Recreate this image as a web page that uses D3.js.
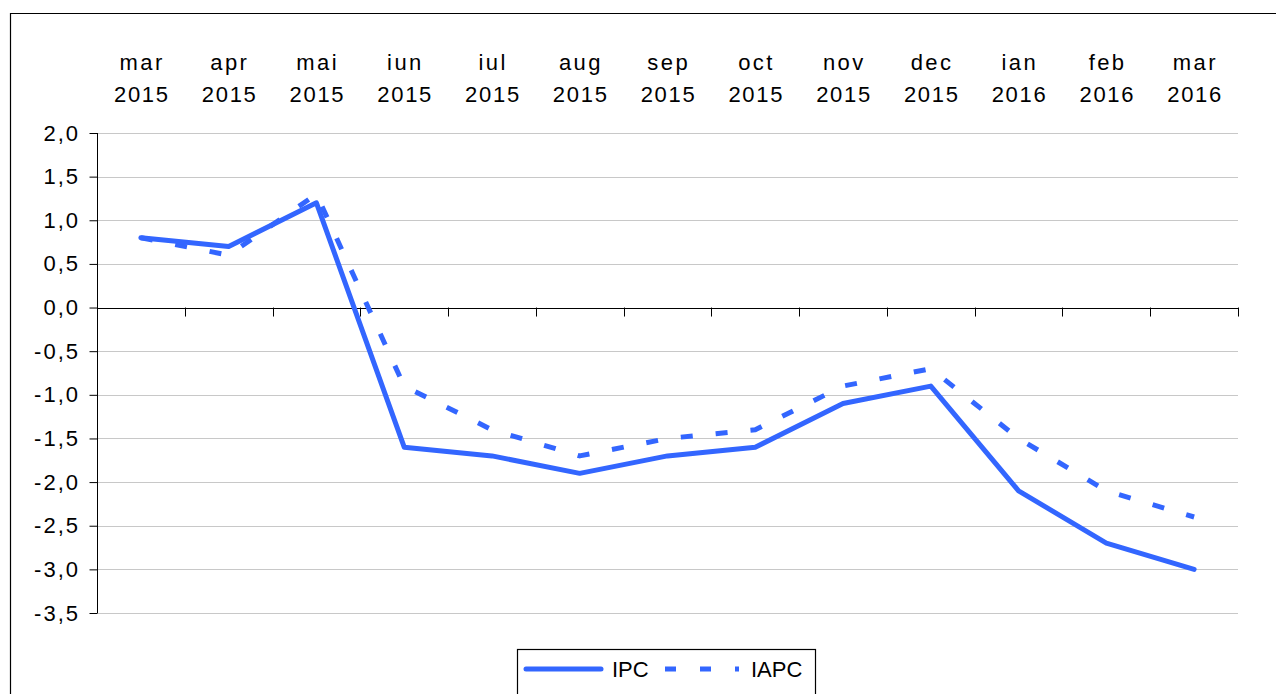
<!DOCTYPE html>
<html>
<head>
<meta charset="utf-8">
<script src="https://cdn.jsdelivr.net/npm/d3@7"></script>
<style>
  html, body { margin: 0; padding: 0; background: #fff; }
  svg { display: block; font-family: "Liberation Sans", Arial, sans-serif; }
</style>
</head>
<body>
<svg id="chart" width="1276" height="694"></svg>
<script>
const months = ["mar", "apr", "mai", "iun", "iul", "aug", "sep", "oct", "nov", "dec", "ian", "feb", "mar"];
const years  = ["2015", "2015", "2015", "2015", "2015", "2015", "2015", "2015", "2015", "2015", "2016", "2016", "2016"];
const ipc  = [0.8, 0.7, 1.2, -1.6, -1.7, -1.9, -1.7, -1.6, -1.1, -0.9, -2.1, -2.7, -3.0];
const iapc = [0.8, 0.6, 1.3, -0.9, -1.4, -1.7, -1.5, -1.4, -0.9, -0.7, -1.5, -2.1, -2.4];
const yTicks = [2.0, 1.5, 1.0, 0.5, 0.0, -0.5, -1.0, -1.5, -2.0, -2.5, -3.0, -3.5];
const seriesNames = ["IPC", "IAPC"];

const color = "#3366ff";
const svg = d3.select("#chart");
const idx = d3.range(months.length);

const x = d3.scaleBand().domain(idx).range([97, 1238]).paddingInner(0).paddingOuter(0);
const y = d3.scaleLinear().domain([-3.5, 2]).range([613, 133]);
const cx = i => x(i) + x.bandwidth() / 2;

// outer border (top + left)
svg.append("path")
  .attr("d", "M10.5,694 L10.5,13.5 L1276,13.5")
  .attr("fill", "none").attr("stroke", "#000").attr("stroke-width", 1.2);

// gridlines
svg.append("g").selectAll("line").data(yTicks).join("line")
  .attr("x1", 97).attr("x2", 1238)
  .attr("y1", d => Math.round(y(d)) + 0.5).attr("y2", d => Math.round(y(d)) + 0.5)
  .attr("stroke", "#c8c8c8").attr("stroke-width", 1);

// y axis
const yAxis = d3.axisLeft(y).tickValues(yTicks).tickSize(8).tickPadding(9.5)
  .tickFormat(d => d3.format(".1f")(d).replace(".", ",").replace("−", "-"));
const gy = svg.append("g").attr("transform", "translate(97.5,0)").call(yAxis);
gy.select(".domain").attr("stroke", "#000").attr("d", `M0,${y(2)}V${y(-3.5)}`);
gy.selectAll(".tick line").attr("stroke", "#000");
gy.selectAll(".tick text").attr("font-size", 22).attr("fill", "#000")
  .attr("letter-spacing", 2)
  .attr("font-family", "Liberation Sans, Arial, sans-serif");

// x axis at zero line
const bounds = idx.map(i => x(i)).concat([x.range()[1]]);
const gx = svg.append("g");
gx.append("line").attr("x1", 97).attr("x2", 1238)
  .attr("y1", Math.round(y(0)) + 0.5).attr("y2", Math.round(y(0)) + 0.5)
  .attr("stroke", "#000").attr("stroke-width", 1.2);
gx.selectAll("line.tk").data(bounds.slice(1)).join("line").attr("class", "tk")
  .attr("x1", d => Math.round(d) + 0.5).attr("x2", d => Math.round(d) + 0.5)
  .attr("y1", y(0)).attr("y2", y(0) + 9)
  .attr("stroke", "#000").attr("stroke-width", 1);

// top category labels
const lab = svg.append("g").attr("font-size", 22).attr("fill", "#000").attr("text-anchor", "middle");
lab.selectAll("text.m").data(idx).join("text").attr("class", "m")
  .attr("x", d => cx(d) + 1.2).attr("y", 70).attr("letter-spacing", 2.4).text(d => months[d]);
lab.selectAll("text.yr").data(idx).join("text").attr("class", "yr")
  .attr("x", d => cx(d) + 1).attr("y", 102).attr("letter-spacing", 1.7).text(d => years[d]);

// lines
const line = d3.line().x((d, i) => cx(i)).y(d => y(d));
svg.append("path").datum(iapc).attr("d", line)
  .attr("fill", "none").attr("stroke", color).attr("stroke-width", 5)
  .attr("stroke-dasharray", "12 23").attr("stroke-linejoin", "round");
svg.append("path").datum(ipc).attr("d", line)
  .attr("fill", "none").attr("stroke", color).attr("stroke-width", 5)
  .attr("stroke-linecap", "round").attr("stroke-linejoin", "round");

// legend
const lg = svg.append("g");
lg.append("rect").attr("x", 517.5).attr("y", 649.5).attr("width", 298).attr("height", 60)
  .attr("fill", "#fff").attr("stroke", "#000").attr("stroke-width", 1.2);
lg.append("line").attr("x1", 526).attr("x2", 601).attr("y1", 669).attr("y2", 669)
  .attr("stroke", color).attr("stroke-width", 5).attr("stroke-linecap", "round");
lg.append("text").attr("x", 612).attr("y", 677).attr("font-size", 22).text(seriesNames[0]);
lg.append("line").attr("x1", 665).attr("x2", 739).attr("y1", 669).attr("y2", 669)
  .attr("stroke", color).attr("stroke-width", 5).attr("stroke-dasharray", "11 24");
lg.append("text").attr("x", 751).attr("y", 677).attr("font-size", 22).text(seriesNames[1]);
</script>
</body>
</html>
